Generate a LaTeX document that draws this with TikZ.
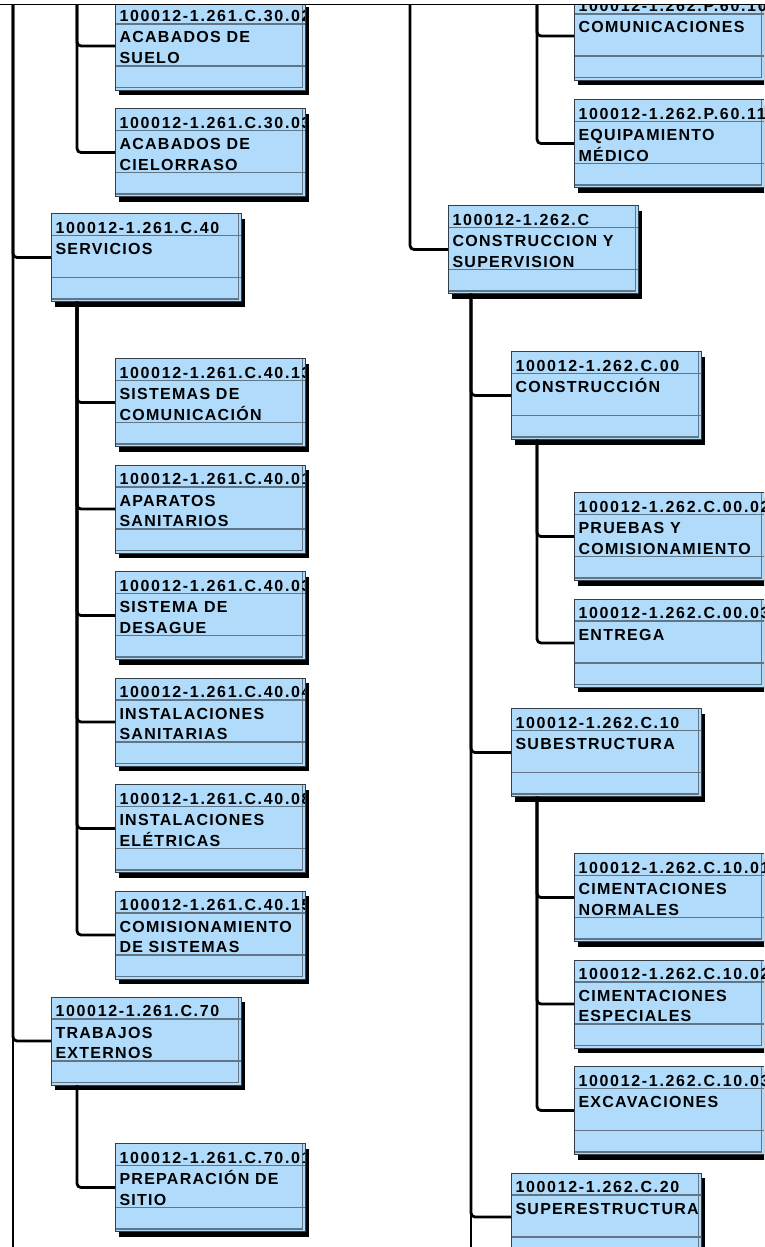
\documentclass[tikz,border=0pt]{standalone}
\usepackage{fontspec}
\setmainfont{Liberation Sans}
\newfontfamily\codefont[LetterSpace=10.5]{Liberation Sans}
\newfontfamily\namefont[LetterSpace=8]{Liberation Sans}
\usetikzlibrary{shadows}

\definecolor{boxfill}{RGB}{177,219,251}
\definecolor{boxedge}{RGB}{52,62,72}
\definecolor{boxrule}{RGB}{96,118,134}

\tikzset{
  trunk/.style={black, line width=2.8pt, rounded corners=4pt},
  boxtext/.style={anchor=base west, inner sep=0pt, outer sep=0pt,
    minimum width=0pt, minimum height=0pt, draw=none, fill=none},
  codetext/.style={boxtext, font=\codefont\bfseries\fontsize{16}{19}\selectfont},
  nametext/.style={boxtext, font=\namefont\bfseries\fontsize{16}{19}\selectfont},
  wbsbox/.style n args={3}{draw=boxedge, line width=1pt, fill=boxfill, anchor=north west,
    minimum width=190pt, minimum height=88pt, inner sep=0pt, outer sep=0pt,
    drop shadow={shadow xshift=4pt, shadow yshift=-5pt, fill=black, opacity=1},
    path picture={
      \draw[boxrule, line width=1.2pt] ([yshift=-22pt]path picture bounding box.north west) -- ([yshift=-22pt]path picture bounding box.north east);
      \draw[boxrule, line width=1.2pt] ([yshift=-64pt]path picture bounding box.north west) -- ([yshift=-64pt]path picture bounding box.north east);
      \draw[boxrule, line width=1.1pt] ([shift={(-2.5pt,0pt)}]path picture bounding box.north east) -- ([shift={(-2.5pt,2.5pt)}]path picture bounding box.south east) -- ([shift={(0pt,2.5pt)}]path picture bounding box.south west);
      \node[codetext] at ([shift={(4.5pt,-19.5pt)}]path picture bounding box.north west) {#1};
      \node[nametext] at ([shift={(4.5pt,-41pt)}]path picture bounding box.north west) {#2};
      \node[nametext] at ([shift={(4.5pt,-61.5pt)}]path picture bounding box.north west) {#3};
    }},
}

\begin{document}
\begin{tikzpicture}[x=1pt,y=-1pt]
\useasboundingbox (0,0) rectangle (764,1247);
\begin{scope}
\clip (0,4.5) rectangle (764,1247);

% left column
\node[wbsbox={100012-1.261.C.30.02}{ACABADOS DE}{SUELO}] (a1) at (115,2) {};
\node[wbsbox={100012-1.261.C.30.03}{ACABADOS DE}{CIELORRASO}] (a2) at (115,108.5) {};
\node[wbsbox={100012-1.261.C.40}{SERVICIOS}{}] (srv) at (51,213.5) {};
\node[wbsbox={100012-1.261.C.40.13}{SISTEMAS DE}{COMUNICACIÓN}] (s1) at (115,358.5) {};
\node[wbsbox={100012-1.261.C.40.01}{APARATOS}{SANITARIOS}] (s2) at (115,465) {};
\node[wbsbox={100012-1.261.C.40.03}{SISTEMA DE}{DESAGUE}] (s3) at (115,571.5) {};
\node[wbsbox={100012-1.261.C.40.04}{INSTALACIONES}{SANITARIAS}] (s4) at (115,678) {};
\node[wbsbox={100012-1.261.C.40.08}{INSTALACIONES}{ELÉTRICAS}] (s5) at (115,784.5) {};
\node[wbsbox={100012-1.261.C.40.15}{COMISIONAMIENTO}{DE SISTEMAS}] (s6) at (115,891) {};
\node[wbsbox={100012-1.261.C.70}{TRABAJOS}{EXTERNOS}] (ext) at (51,997) {};
\node[wbsbox={100012-1.261.C.70.01}{PREPARACIÓN DE}{SITIO}] (e1) at (115,1143.5) {};

% right column
\node[wbsbox={100012-1.262.P.60.10}{COMUNICACIONES}{}] (p1) at (574,-8) {};
\node[wbsbox={100012-1.262.P.60.11}{EQUIPAMIENTO}{MÉDICO}] (p2) at (574,99.5) {};
\node[wbsbox={100012-1.262.C}{CONSTRUCCION Y}{SUPERVISION}] (cs) at (448,205.5) {};
\node[wbsbox={100012-1.262.C.00}{CONSTRUCCIÓN}{}] (c0) at (511,351.5) {};
\node[wbsbox={100012-1.262.C.00.02}{PRUEBAS Y}{COMISIONAMIENTO}] (c01) at (574,492.5) {};
\node[wbsbox={100012-1.262.C.00.03}{ENTREGA}{}] (c02) at (574,599) {};
\node[wbsbox={100012-1.262.C.10}{SUBESTRUCTURA}{}] (c1) at (511,708.5) {};
\node[wbsbox={100012-1.262.C.10.01}{CIMENTACIONES}{NORMALES}] (c11) at (574,853.5) {};
\node[wbsbox={100012-1.262.C.10.02}{CIMENTACIONES}{ESPECIALES}] (c12) at (574,960) {};
\node[wbsbox={100012-1.262.C.10.03}{EXCAVACIONES}{}] (c13) at (574,1066.5) {};
\node[wbsbox={100012-1.262.C.20}{SUPERESTRUCTURA}{}] (c2) at (511,1173) {};

% trunks
\coordinate (ltop) at (13,4.5);
\coordinate (lbot) at (13,1247);
\coordinate (atop) at (77,4.5);
\coordinate (mtop) at (410,4.5);
\coordinate (rtop) at (537,4.5);
\coordinate (sv) at ([xshift=26pt]srv.south west);
\coordinate (ev) at ([xshift=26pt]ext.south west);
\coordinate (cv) at ([xshift=23pt]cs.south west);
\coordinate (cbot) at (cv |- lbot);
\coordinate (c0v) at ([xshift=26pt]c0.south west);
\coordinate (c1v) at ([xshift=26pt]c1.south west);

\draw[trunk] (ltop) -- (lbot);
\draw[trunk] (ltop) |- (srv.west);
\draw[trunk] (ltop) |- (ext.west);
\draw[trunk] (atop) |- (a1.west);
\draw[trunk] (atop) |- (a2.west);
\draw[trunk] (sv) |- (s1.west);
\draw[trunk] (sv) |- (s2.west);
\draw[trunk] (sv) |- (s3.west);
\draw[trunk] (sv) |- (s4.west);
\draw[trunk] (sv) |- (s5.west);
\draw[trunk] (sv) |- (s6.west);
\draw[trunk] (ev) |- (e1.west);
\draw[trunk] (mtop) |- (cs.west);
\draw[trunk] (rtop) |- (p1.west);
\draw[trunk] (rtop) |- (p2.west);
\draw[trunk] (cv) -- (cbot);
\draw[trunk] (cv) |- (c0.west);
\draw[trunk] (cv) |- (c1.west);
\draw[trunk] (cv) |- (c2.west);
\draw[trunk] (c0v) |- (c01.west);
\draw[trunk] (c0v) |- (c02.west);
\draw[trunk] (c1v) |- (c11.west);
\draw[trunk] (c1v) |- (c12.west);
\draw[trunk] (c1v) |- (c13.west);
\end{scope}

\coordinate (topl) at (0,4.5);
\coordinate (topr) at (764,4.5);
\draw[black, line width=1.8pt] (topl) -- (topr);
\end{tikzpicture}
\end{document}
